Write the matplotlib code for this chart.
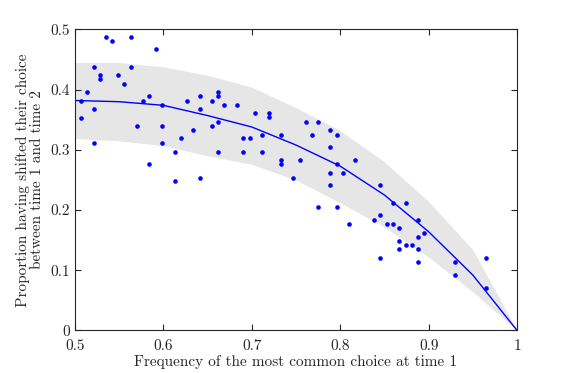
import numpy as np
import matplotlib
matplotlib.use("Agg")
import matplotlib.pyplot as plt

freq = [0.535, 0.542, 0.563, 0.592, 0.521, 0.563, 0.528, 0.528, 0.549, 0.556,
        0.514, 0.507, 0.521, 0.507, 0.521, 0.577, 0.584, 0.598, 0.570, 0.598,
        0.598, 0.584, 0.613, 0.620, 0.634, 0.627, 0.641, 0.641, 0.655, 0.662,
        0.662, 0.669, 0.662, 0.655, 0.662, 0.613, 0.641, 0.683, 0.704, 0.719,
        0.719, 0.711, 0.733, 0.690, 0.698, 0.690, 0.711, 0.733, 0.733, 0.754,
        0.747, 0.761, 0.775, 0.768, 0.789, 0.796, 0.789, 0.796, 0.817, 0.789,
        0.803, 0.789, 0.775, 0.796, 0.810, 0.838, 0.845, 0.845, 0.845, 0.860,
        0.874, 0.853, 0.860, 0.867, 0.888, 0.895, 0.888, 0.867, 0.867, 0.874,
        0.881, 0.888, 0.888, 0.930, 0.930, 0.965, 0.965]
shift = [0.488, 0.481, 0.488, 0.467, 0.438, 0.438, 0.424, 0.417, 0.424, 0.410,
         0.396, 0.382, 0.368, 0.353, 0.311, 0.382, 0.389, 0.375, 0.340, 0.340,
         0.311, 0.276, 0.297, 0.319, 0.333, 0.382, 0.389, 0.368, 0.382, 0.396,
         0.389, 0.375, 0.346, 0.340, 0.297, 0.248, 0.254, 0.375, 0.361, 0.361,
         0.354, 0.325, 0.325, 0.319, 0.319, 0.297, 0.297, 0.283, 0.276, 0.283,
         0.254, 0.346, 0.346, 0.325, 0.333, 0.325, 0.304, 0.276, 0.283, 0.262,
         0.262, 0.241, 0.205, 0.205, 0.177, 0.184, 0.191, 0.241, 0.120, 0.212,
         0.212, 0.177, 0.177, 0.170, 0.184, 0.162, 0.156, 0.149, 0.135, 0.142,
         0.142, 0.135, 0.113, 0.113, 0.092, 0.120, 0.071]

# model prediction and its band
grid = [0.50, 0.55, 0.60, 0.65, 0.70, 0.75, 0.80, 0.85, 0.90, 0.95, 1.00]
pred = [0.382, 0.380, 0.374, 0.357, 0.338, 0.308, 0.273, 0.225, 0.164, 0.092, 0.0]
upper = [0.445, 0.445, 0.438, 0.424, 0.404, 0.370, 0.332, 0.280, 0.214, 0.134, 0.0]
lower = [0.319, 0.315, 0.307, 0.290, 0.276, 0.250, 0.212, 0.172, 0.122, 0.064, 0.0]

plt.rcParams['font.family'] = 'serif'
plt.rcParams['font.serif'] = ['cmr10']
plt.rcParams['axes.formatter.use_mathtext'] = True
plt.rcParams['mathtext.fontset'] = 'cm'

fig = plt.figure(figsize=(5.72, 3.73), dpi=100)
ax = fig.add_axes([0.131, 0.114, 0.773, 0.807])

ax.fill_between(grid, lower, upper, color=(0.9, 0.9, 0.9), linewidth=0)
ax.plot(grid, pred, color='blue', linewidth=1)
ax.plot(freq, shift, linestyle='none', marker='o', markersize=3.3,
        color='blue', markeredgewidth=0)

ax.set_xlim(0.5, 1)
ax.set_ylim(0, 0.5)
ax.set_xticks([0.5, 0.6, 0.7, 0.8, 0.9, 1.0])
ax.set_xticklabels(['0.5', '0.6', '0.7', '0.8', '0.9', '1'])
ax.set_yticks([0, 0.1, 0.2, 0.3, 0.4, 0.5])
ax.set_yticklabels(['0', '0.1', '0.2', '0.3', '0.4', '0.5'])
ax.tick_params(direction='in', top=True, right=True, length=4, width=0.8,
               labelsize=11, colors=(0.15, 0.15, 0.15))
ax.tick_params(axis='x', pad=6)
for s in ax.spines.values():
    s.set_color((0.15, 0.15, 0.15))
    s.set_linewidth(0.8)

ax.set_xlabel("Frequency of the most common choice at time 1", fontsize=11,
              color=(0.15, 0.15, 0.15), labelpad=2)
ax.set_ylabel("Proportion having shifted their choice\nbetween time 1 and time 2",
              fontsize=11, color=(0.15, 0.15, 0.15), labelpad=5, linespacing=1.0)

fig.savefig("out.png", dpi=100)
